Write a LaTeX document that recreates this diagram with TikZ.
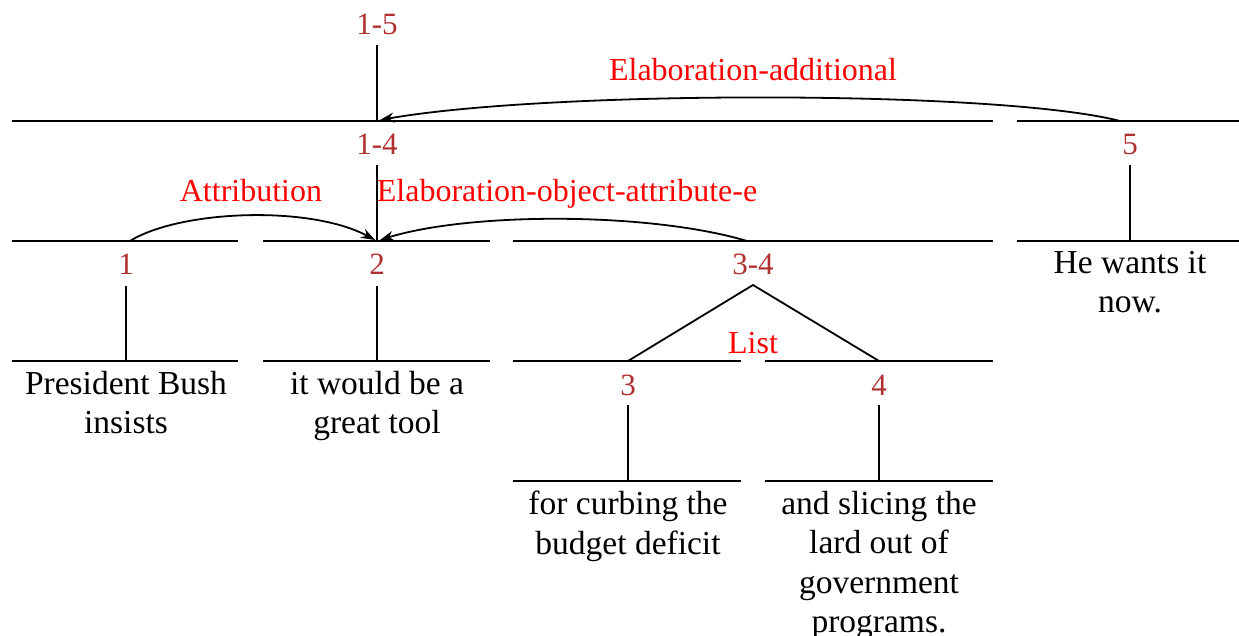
\documentclass[tikz,border=0pt]{standalone}
\usepackage{fontspec}
\setmainfont{Liberation Serif}
\usetikzlibrary{arrows.meta}
\definecolor{numcol}{RGB}{176,48,48}
\definecolor{relcol}{RGB}{255,0,0}
\begin{document}
\begin{tikzpicture}[x=1pt,y=-1pt,
  seg/.style={line width=1.8pt},
  num/.style={text=numcol,font=\fontsize{31}{36}\selectfont,inner sep=0pt,anchor=base},
  rel/.style={text=relcol,font=\fontsize{32}{36}\selectfont,inner sep=0pt,anchor=base},
  edu/.style={font=\fontsize{33.5}{39.5}\selectfont,align=center,inner sep=0pt,anchor=north},
  arr/.style={line width=1.8pt,-{Stealth[length=14pt,width=10pt]}}]
\useasboundingbox (0,0) rectangle (1239,636);

% ---- span lines ----
\coordinate (a1) at (12,121);   \coordinate (a2) at (993,121);
\coordinate (a3) at (1017,121); \coordinate (a4) at (1239,121);
\coordinate (b1) at (12,241);   \coordinate (b2) at (238,241);
\coordinate (b3) at (263,241);  \coordinate (b4) at (490,241);
\coordinate (b5) at (513,241);  \coordinate (b6) at (993,241);
\coordinate (b7) at (1017,241); \coordinate (b8) at (1239,241);
\coordinate (c1) at (12,361);   \coordinate (c2) at (238,361);
\coordinate (c3) at (263,361);  \coordinate (c4) at (490,361);
\coordinate (c5) at (513,361);  \coordinate (c6) at (741,361);
\coordinate (c7) at (765,361);  \coordinate (c8) at (993,361);
\coordinate (d1) at (513,481);  \coordinate (d2) at (741,481);
\coordinate (d3) at (765,481);  \coordinate (d4) at (993,481);
\foreach \p/\q in {a1/a2,a3/a4,b1/b2,b3/b4,b5/b6,b7/b8,c1/c2,c3/c4,c5/c6,c7/c8,d1/d2,d3/d4}
  \draw[seg] (\p) -- (\q);

% ---- span labels ----
\node[num] (n15) at (377,35) {1-5};
\node[num] (n14) at (377,155) {1-4};
\node[num] (n5)  at (1130,155) {5};
\node[num] (n1)  at (126,275) {1};
\node[num] (n2)  at (377,275) {2};
\node[num] (n34) at (753,275) {3-4};
\node[num] (n3)  at (628,395) {3};
\node[num] (n4)  at (879,395) {4};

% ---- attachment points ----
\coordinate (t15) at (377,121);
\coordinate (t14) at (377,241);
\coordinate (t5)  at (1130,241);
\coordinate (t1)  at (126,361);
\coordinate (t2)  at (377,361);
\coordinate (t3l) at (628,361);
\coordinate (t4l) at (879,361);
\coordinate (t3)  at (628,481);
\coordinate (t4)  at (879,481);

\draw[seg] ([yshift=-10pt]n15.base) -- (t15);
\draw[seg] ([yshift=-10pt]n14.base) -- (t14);
\draw[seg] ([yshift=-10pt]n5.base) -- (t5);
\draw[seg] ([yshift=-11pt]n1.base) -- (t1);
\draw[seg] ([yshift=-11pt]n2.base) -- (t2);
\draw[seg] ([yshift=-10pt]n3.base) -- (t3);
\draw[seg] ([yshift=-10pt]n4.base) -- (t4);
\coordinate (apex) at ([yshift=-10pt]n34.base);
\draw[seg] (t3l) -- (apex) -- (t4l);

% ---- texts ----
\node[edu] (e1) at (126,371) {President Bush\\insists};
\node[edu] (e2) at (377,371) {it would be a\\great tool};
\node[edu] (e5) at (1130,251) {He wants it\\now.};
\node[edu] (e3) at (628,491) {for curbing the\\budget deficit};
\node[edu] (e4) at (879,491) {and slicing the\\lard out of\\government\\programs.};

% ---- relations ----
\node[rel] (r1) at (753,81) {Elaboration-additional};
\node[rel] (r2) at (251,202) {Attribution};
\node[rel] (r3) at (567,202) {Elaboration-object-attribute-e};
\node[rel] (r4) at (753,353) {List};

\coordinate (ea_s) at (1120,121); \coordinate (ea_t) at (380,120);
\coordinate (at_s) at (130,241);  \coordinate (at_t) at (375,240);
\coordinate (eo_s) at (747,241);  \coordinate (eo_t) at (380,240);
\draw[arr] (ea_s) .. controls (1000,90) and (550,90) .. (ea_t);
\draw[arr] (at_s) .. controls (180,210) and (310,205) .. (at_t);
\draw[arr] (eo_s) .. controls (650,212) and (470,212) .. (eo_t);
\end{tikzpicture}
\end{document}
